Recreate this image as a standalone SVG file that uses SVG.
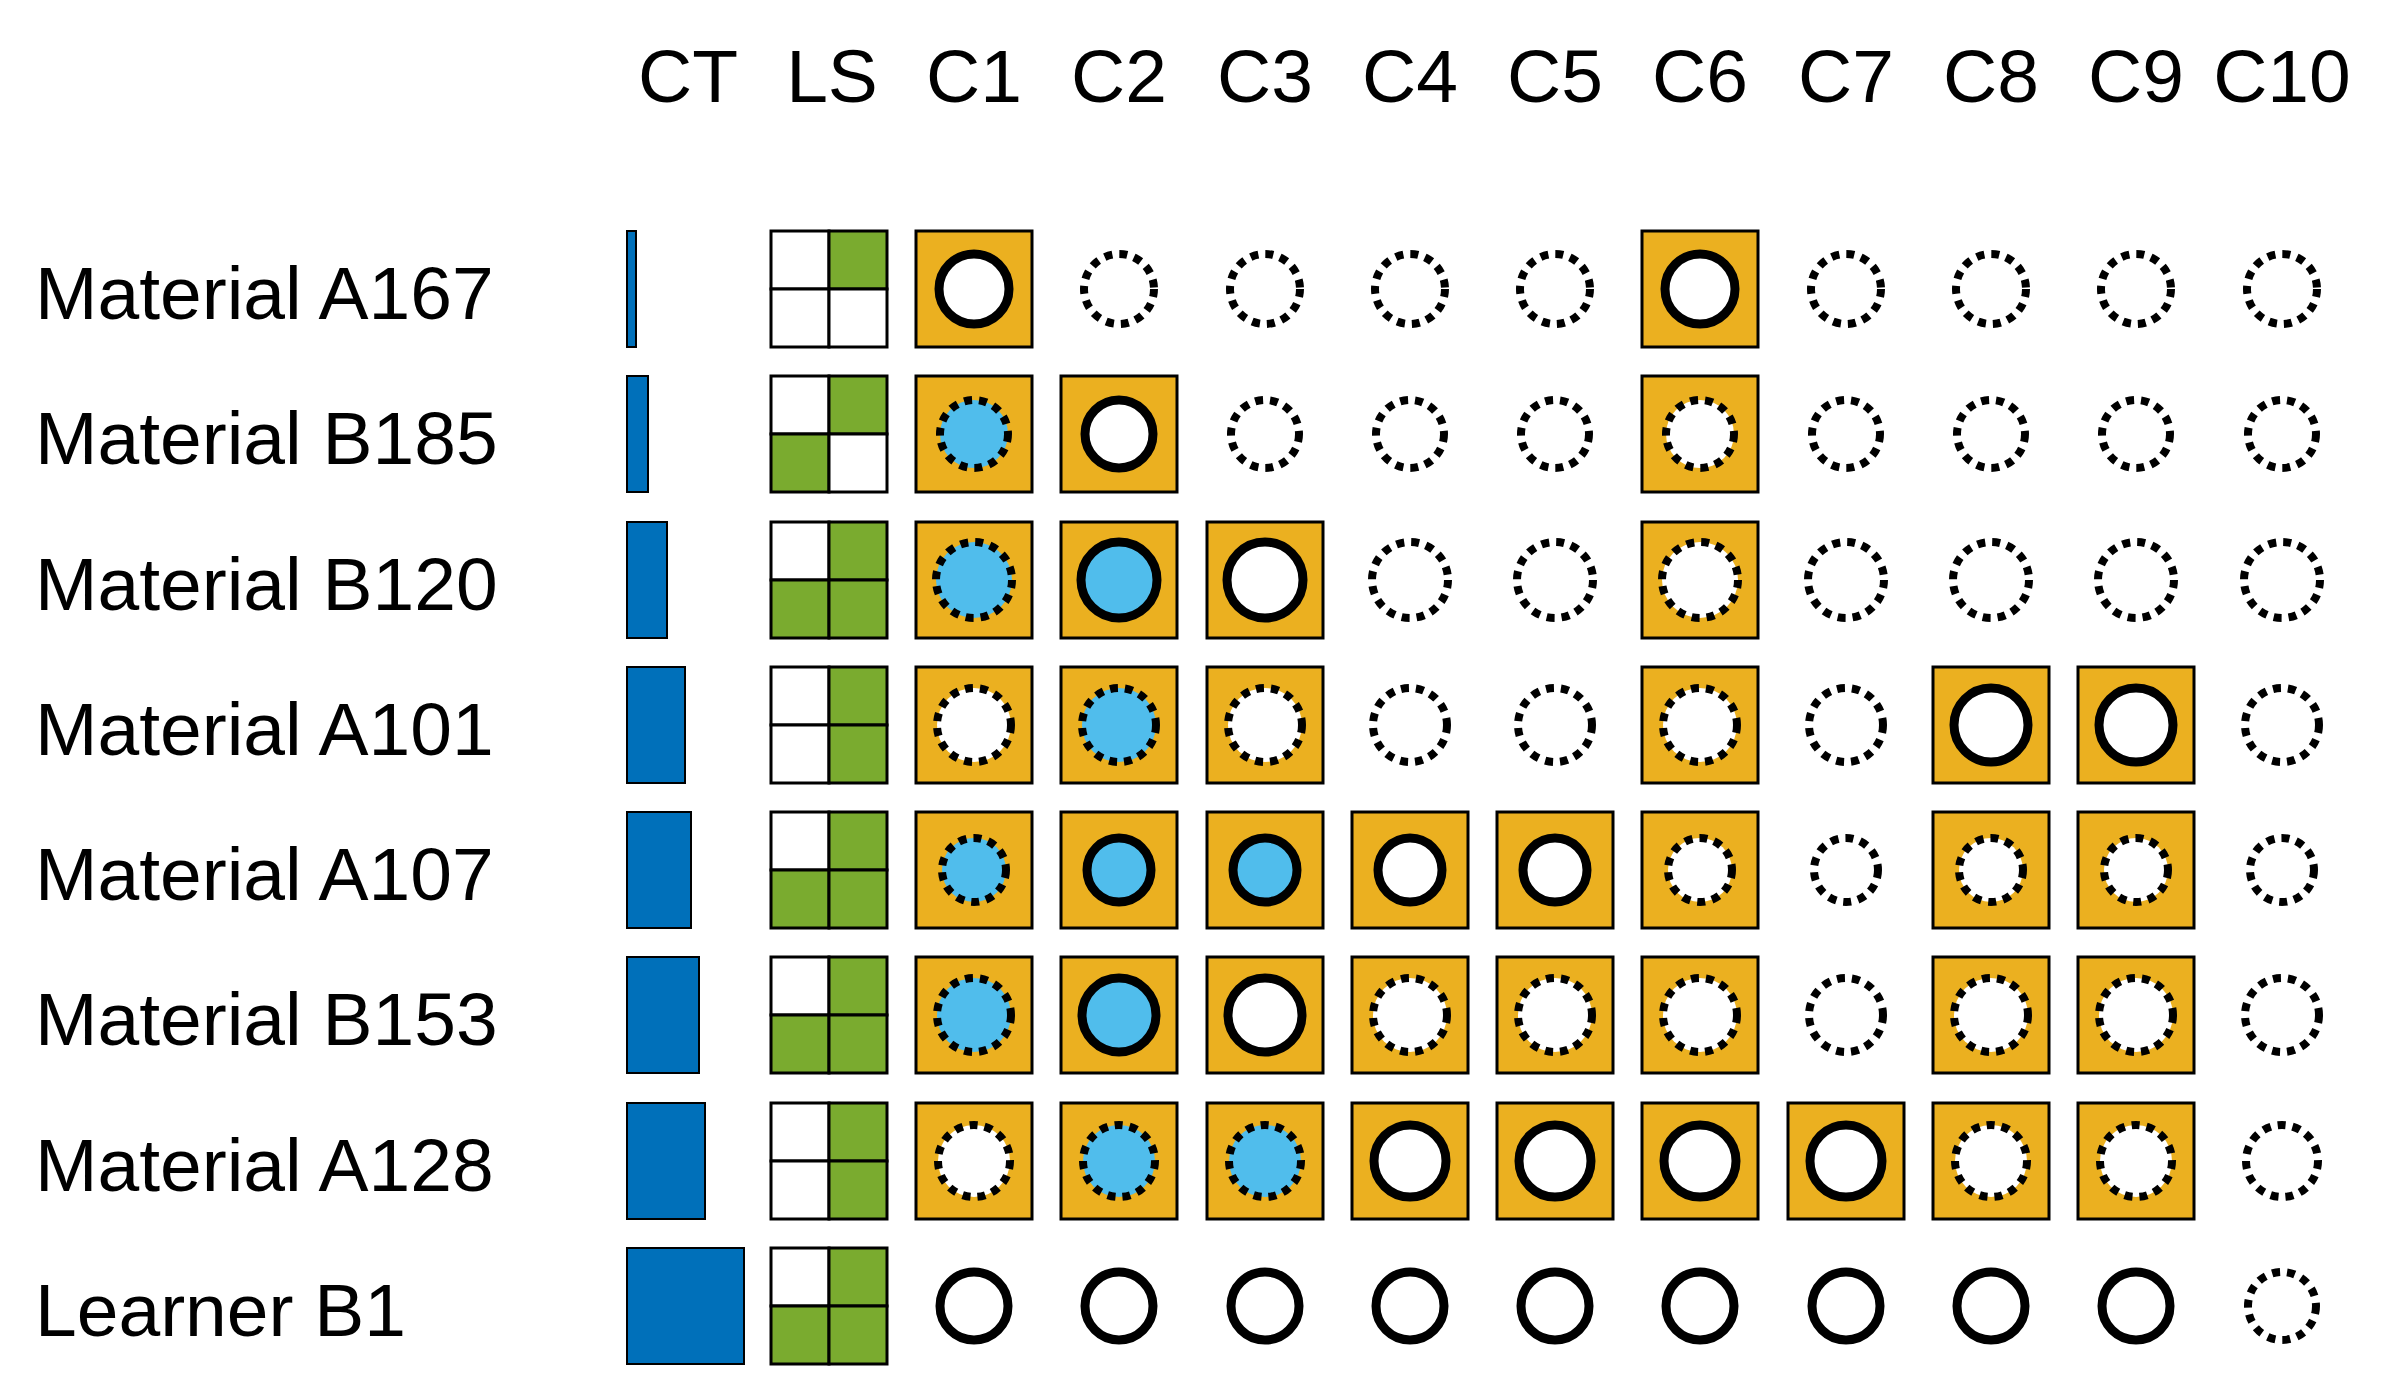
<svg xmlns="http://www.w3.org/2000/svg" width="2382" height="1390" viewBox="0 0 2382 1390">
<style>
text{font-family:"Liberation Sans",Arial,sans-serif;font-size:75px;fill:#000}
.h{text-anchor:middle}
.ct{fill:#0070BA;stroke:#000;stroke-width:2}
.g{fill:#7AAB2F;stroke:#000;stroke-width:3}
.e{fill:#fff;stroke:#000;stroke-width:3}
.y{fill:#EBB020;stroke:#000;stroke-width:3}
.s{stroke:#000;stroke-width:9;fill:#fff}
.d{stroke:#000;stroke-width:8;stroke-dasharray:8 7;fill:#fff}
.b{fill:#50BDEC}
</style>
<rect width="2382" height="1390" fill="#fff"/>
<g id="header">
<text class="h" x="688" y="102">CT</text><text class="h" x="832" y="102">LS</text>
<text class="h" x="974" y="102">C1</text><text class="h" x="1119" y="102">C2</text><text class="h" x="1265" y="102">C3</text><text class="h" x="1410" y="102">C4</text><text class="h" x="1555" y="102">C5</text><text class="h" x="1700" y="102">C6</text><text class="h" x="1846" y="102">C7</text><text class="h" x="1991" y="102">C8</text><text class="h" x="2136" y="102">C9</text><text class="h" x="2282" y="102">C10</text>
</g>
<g id="row1">
<text x="35" y="319">Material A167</text>
<rect class="ct" x="627" y="231" width="9" height="116"/>
<rect class="e" x="771" y="231" width="58" height="58"/><rect class="g" x="829" y="231" width="58" height="58"/><rect class="e" x="771" y="289" width="58" height="58"/><rect class="e" x="829" y="289" width="58" height="58"/>
<rect class="y" x="916" y="231" width="116" height="116"/><circle class="s" cx="974" cy="289" r="35"/>
<circle class="d" cx="1119" cy="289" r="35"/><circle class="d" cx="1265" cy="289" r="35"/><circle class="d" cx="1410" cy="289" r="35"/><circle class="d" cx="1555" cy="289" r="35"/>
<rect class="y" x="1642" y="231" width="116" height="116"/><circle class="s" cx="1700" cy="289" r="35"/>
<circle class="d" cx="1846" cy="289" r="35"/><circle class="d" cx="1991" cy="289" r="35"/><circle class="d" cx="2136" cy="289" r="35"/><circle class="d" cx="2282" cy="289" r="35"/>
</g>
<g id="row2">
<text x="35" y="464">Material B185</text>
<rect class="ct" x="627" y="376" width="21" height="116"/>
<rect class="e" x="771" y="376" width="58" height="58"/><rect class="g" x="829" y="376" width="58" height="58"/><rect class="g" x="771" y="434" width="58" height="58"/><rect class="e" x="829" y="434" width="58" height="58"/>
<rect class="y" x="916" y="376" width="116" height="116"/><circle class="d b" cx="974" cy="434" r="34"/>
<rect class="y" x="1061" y="376" width="116" height="116"/><circle class="s" cx="1119" cy="434" r="34"/>
<circle class="d" cx="1265" cy="434" r="34"/><circle class="d" cx="1410" cy="434" r="34"/><circle class="d" cx="1555" cy="434" r="34"/>
<rect class="y" x="1642" y="376" width="116" height="116"/><circle class="d" cx="1700" cy="434" r="34"/>
<circle class="d" cx="1846" cy="434" r="34"/><circle class="d" cx="1991" cy="434" r="34"/><circle class="d" cx="2136" cy="434" r="34"/><circle class="d" cx="2282" cy="434" r="34"/>
</g>
<g id="row3">
<text x="35" y="610">Material B120</text>
<rect class="ct" x="627" y="522" width="40" height="116"/>
<rect class="e" x="771" y="522" width="58" height="58"/><rect class="g" x="829" y="522" width="58" height="58"/><rect class="g" x="771" y="580" width="58" height="58"/><rect class="g" x="829" y="580" width="58" height="58"/>
<rect class="y" x="916" y="522" width="116" height="116"/><circle class="d b" cx="974" cy="580" r="38"/>
<rect class="y" x="1061" y="522" width="116" height="116"/><circle class="s b" cx="1119" cy="580" r="38"/>
<rect class="y" x="1207" y="522" width="116" height="116"/><circle class="s" cx="1265" cy="580" r="38"/>
<circle class="d" cx="1410" cy="580" r="38"/><circle class="d" cx="1555" cy="580" r="38"/>
<rect class="y" x="1642" y="522" width="116" height="116"/><circle class="d" cx="1700" cy="580" r="38"/>
<circle class="d" cx="1846" cy="580" r="38"/><circle class="d" cx="1991" cy="580" r="38"/><circle class="d" cx="2136" cy="580" r="38"/><circle class="d" cx="2282" cy="580" r="38"/>
</g>
<g id="row4">
<text x="35" y="755">Material A101</text>
<rect class="ct" x="627" y="667" width="58" height="116"/>
<rect class="e" x="771" y="667" width="58" height="58"/><rect class="g" x="829" y="667" width="58" height="58"/><rect class="e" x="771" y="725" width="58" height="58"/><rect class="g" x="829" y="725" width="58" height="58"/>
<rect class="y" x="916" y="667" width="116" height="116"/><circle class="d" cx="974" cy="725" r="37"/>
<rect class="y" x="1061" y="667" width="116" height="116"/><circle class="d b" cx="1119" cy="725" r="37"/>
<rect class="y" x="1207" y="667" width="116" height="116"/><circle class="d" cx="1265" cy="725" r="37"/>
<circle class="d" cx="1410" cy="725" r="37"/><circle class="d" cx="1555" cy="725" r="37"/>
<rect class="y" x="1642" y="667" width="116" height="116"/><circle class="d" cx="1700" cy="725" r="37"/>
<circle class="d" cx="1846" cy="725" r="37"/>
<rect class="y" x="1933" y="667" width="116" height="116"/><circle class="s" cx="1991" cy="725" r="37"/>
<rect class="y" x="2078" y="667" width="116" height="116"/><circle class="s" cx="2136" cy="725" r="37"/>
<circle class="d" cx="2282" cy="725" r="37"/>
</g>
<g id="row5">
<text x="35" y="900">Material A107</text>
<rect class="ct" x="627" y="812" width="64" height="116"/>
<rect class="e" x="771" y="812" width="58" height="58"/><rect class="g" x="829" y="812" width="58" height="58"/><rect class="g" x="771" y="870" width="58" height="58"/><rect class="g" x="829" y="870" width="58" height="58"/>
<rect class="y" x="916" y="812" width="116" height="116"/><circle class="d b" cx="974" cy="870" r="32"/>
<rect class="y" x="1061" y="812" width="116" height="116"/><circle class="s b" cx="1119" cy="870" r="32"/>
<rect class="y" x="1207" y="812" width="116" height="116"/><circle class="s b" cx="1265" cy="870" r="32"/>
<rect class="y" x="1352" y="812" width="116" height="116"/><circle class="s" cx="1410" cy="870" r="32"/>
<rect class="y" x="1497" y="812" width="116" height="116"/><circle class="s" cx="1555" cy="870" r="32"/>
<rect class="y" x="1642" y="812" width="116" height="116"/><circle class="d" cx="1700" cy="870" r="32"/>
<circle class="d" cx="1846" cy="870" r="32"/>
<rect class="y" x="1933" y="812" width="116" height="116"/><circle class="d" cx="1991" cy="870" r="32"/>
<rect class="y" x="2078" y="812" width="116" height="116"/><circle class="d" cx="2136" cy="870" r="32"/>
<circle class="d" cx="2282" cy="870" r="32"/>
</g>
<g id="row6">
<text x="35" y="1045">Material B153</text>
<rect class="ct" x="627" y="957" width="72" height="116"/>
<rect class="e" x="771" y="957" width="58" height="58"/><rect class="g" x="829" y="957" width="58" height="58"/><rect class="g" x="771" y="1015" width="58" height="58"/><rect class="g" x="829" y="1015" width="58" height="58"/>
<rect class="y" x="916" y="957" width="116" height="116"/><circle class="d b" cx="974" cy="1015" r="37"/>
<rect class="y" x="1061" y="957" width="116" height="116"/><circle class="s b" cx="1119" cy="1015" r="37"/>
<rect class="y" x="1207" y="957" width="116" height="116"/><circle class="s" cx="1265" cy="1015" r="37"/>
<rect class="y" x="1352" y="957" width="116" height="116"/><circle class="d" cx="1410" cy="1015" r="37"/>
<rect class="y" x="1497" y="957" width="116" height="116"/><circle class="d" cx="1555" cy="1015" r="37"/>
<rect class="y" x="1642" y="957" width="116" height="116"/><circle class="d" cx="1700" cy="1015" r="37"/>
<circle class="d" cx="1846" cy="1015" r="37"/>
<rect class="y" x="1933" y="957" width="116" height="116"/><circle class="d" cx="1991" cy="1015" r="37"/>
<rect class="y" x="2078" y="957" width="116" height="116"/><circle class="d" cx="2136" cy="1015" r="37"/>
<circle class="d" cx="2282" cy="1015" r="37"/>
</g>
<g id="row7">
<text x="35" y="1191">Material A128</text>
<rect class="ct" x="627" y="1103" width="78" height="116"/>
<rect class="e" x="771" y="1103" width="58" height="58"/><rect class="g" x="829" y="1103" width="58" height="58"/><rect class="e" x="771" y="1161" width="58" height="58"/><rect class="g" x="829" y="1161" width="58" height="58"/>
<rect class="y" x="916" y="1103" width="116" height="116"/><circle class="d" cx="974" cy="1161" r="36"/>
<rect class="y" x="1061" y="1103" width="116" height="116"/><circle class="d b" cx="1119" cy="1161" r="36"/>
<rect class="y" x="1207" y="1103" width="116" height="116"/><circle class="d b" cx="1265" cy="1161" r="36"/>
<rect class="y" x="1352" y="1103" width="116" height="116"/><circle class="s" cx="1410" cy="1161" r="36"/>
<rect class="y" x="1497" y="1103" width="116" height="116"/><circle class="s" cx="1555" cy="1161" r="36"/>
<rect class="y" x="1642" y="1103" width="116" height="116"/><circle class="s" cx="1700" cy="1161" r="36"/>
<rect class="y" x="1788" y="1103" width="116" height="116"/><circle class="s" cx="1846" cy="1161" r="36"/>
<rect class="y" x="1933" y="1103" width="116" height="116"/><circle class="d" cx="1991" cy="1161" r="36"/>
<rect class="y" x="2078" y="1103" width="116" height="116"/><circle class="d" cx="2136" cy="1161" r="36"/>
<circle class="d" cx="2282" cy="1161" r="36"/>
</g>
<g id="row8">
<text x="35" y="1336">Learner B1</text>
<rect class="ct" x="627" y="1248" width="117" height="116"/>
<rect class="e" x="771" y="1248" width="58" height="58"/><rect class="g" x="829" y="1248" width="58" height="58"/><rect class="g" x="771" y="1306" width="58" height="58"/><rect class="g" x="829" y="1306" width="58" height="58"/>
<circle class="s" cx="974" cy="1306" r="34"/><circle class="s" cx="1119" cy="1306" r="34"/><circle class="s" cx="1265" cy="1306" r="34"/><circle class="s" cx="1410" cy="1306" r="34"/><circle class="s" cx="1555" cy="1306" r="34"/><circle class="s" cx="1700" cy="1306" r="34"/><circle class="s" cx="1846" cy="1306" r="34"/><circle class="s" cx="1991" cy="1306" r="34"/><circle class="s" cx="2136" cy="1306" r="34"/>
<circle class="d" cx="2282" cy="1306" r="34"/>
</g>
<g id="connectors"/>
</svg>
